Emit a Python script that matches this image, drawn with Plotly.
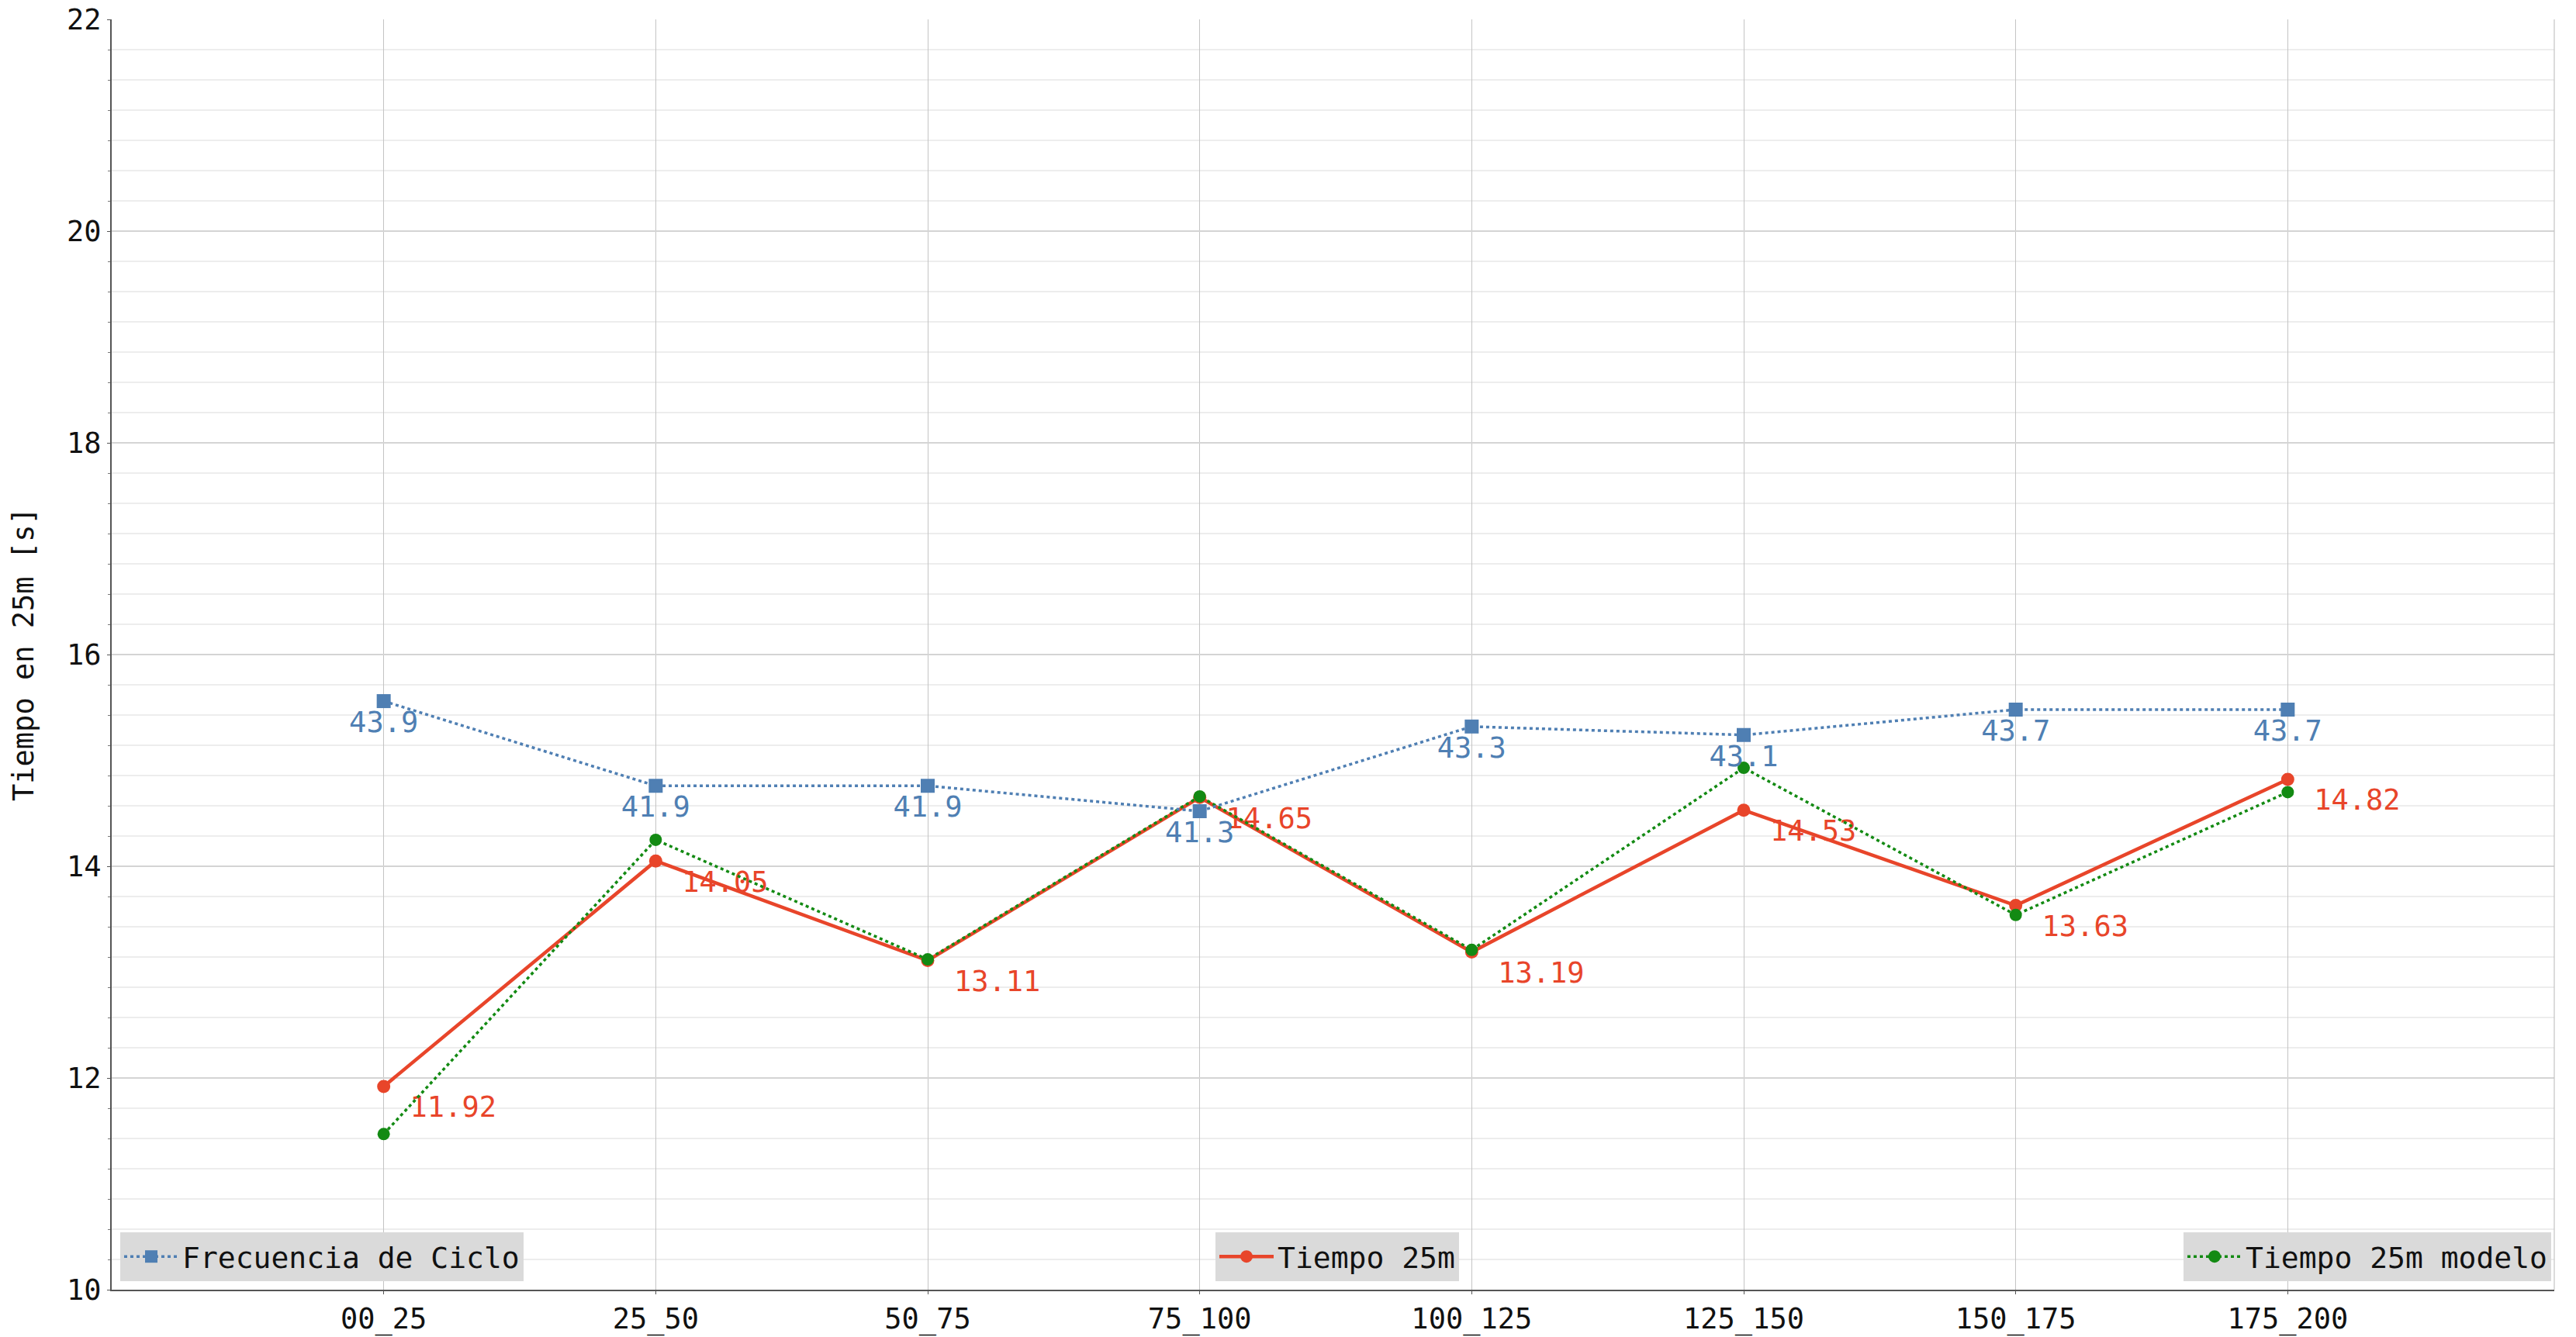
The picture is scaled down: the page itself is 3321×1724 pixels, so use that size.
import plotly.graph_objects as go

categories = ["00_25", "25_50", "50_75", "75_100", "100_125", "125_150", "150_175", "175_200"]
frecuencia_ciclo = [43.9, 41.9, 41.9, 41.3, 43.3, 43.1, 43.7, 43.7]
tiempo_25m = [11.92, 14.05, 13.11, 14.65, 13.19, 14.53, 13.63, 14.82]
tiempo_25m_modelo = [11.47, 14.25, 13.12, 14.66, 13.21, 14.93, 13.54, 14.70]
y_ticks = [10, 12, 14, 16, 18, 20, 22]

BLUE = "#4f7fb3"
RED = "#e8452a"
GREEN = "#138a13"
FONT = "DejaVu Sans Mono"
FS = 37

W, H = 3321, 1724
PL, PT, PR, PB = 144, 25, 3293, 1663  # plot area in page px
ML, MT, MR, MB = PL, PT, W - PR, H - PB
PW, PH = PR - PL, PB - PT

fig = go.Figure()

fig.add_trace(go.Scatter(
    x=categories, y=frecuencia_ciclo, name="Frecuencia de Ciclo",
    mode="lines+markers+text", yaxis="y2",
    line=dict(color=BLUE, width=3.5, dash="4px,4px"),
    marker=dict(symbol="square", size=18, color=BLUE),
    texttemplate="%{y:.1f}", textposition="bottom center",
    textfont=dict(family=FONT, size=FS, color=BLUE),
    legend="legend",
))
fig.add_trace(go.Scatter(
    x=categories, y=tiempo_25m, name="Tiempo 25m",
    mode="lines+markers+text",
    line=dict(color=RED, width=4.5),
    marker=dict(symbol="circle", size=17, color=RED),
    texttemplate="\u00a0%{y:.2f}", textposition="bottom right",
    textfont=dict(family=FONT, size=FS, color=RED),
    legend="legend2",
))
fig.add_trace(go.Scatter(
    x=categories, y=tiempo_25m_modelo, name="Tiempo 25m modelo",
    mode="lines+markers",
    line=dict(color=GREEN, width=3.5, dash="4px,4px"),
    marker=dict(symbol="circle", size=16, color=GREEN),
    legend="legend3",
))

legend_common = dict(
    bgcolor="#dadada", borderwidth=0,
    font=dict(family=FONT, size=38, color="#111111"),
    itemwidth=70, yanchor="bottom", y=(1663 - 1652) / PH,
)

fig.update_layout(
    width=W, height=H,
    margin=dict(l=ML, r=MR, t=MT, b=MB, autoexpand=False),
    paper_bgcolor="white", plot_bgcolor="white",
    font=dict(family=FONT, size=FS, color="#111111"),
    xaxis=dict(
        type="category", range=[-1.0, 7.98], automargin=False,
        showgrid=True, gridcolor="#c4c4c4", gridwidth=1.2,
        showline=True, linecolor="#555555", linewidth=2,
        ticks="outside", ticklen=4, tickcolor="#555555",
        tickfont=dict(family=FONT, size=FS, color="#111111"),
        ticklabeloverflow="allow",
        zeroline=False,
    ),
    yaxis=dict(
        range=[10, 22], tickvals=y_ticks, automargin=False,
        showgrid=True, gridcolor="#d4d4d4", gridwidth=1.5,
        showline=True, linecolor="#555555", linewidth=2,
        ticks="outside", ticklen=4, tickcolor="#555555",
        tickfont=dict(family=FONT, size=FS, color="#111111"),
        ticklabeloverflow="allow",
        zeroline=False,
        minor=dict(dtick=2 / 7, tick0=10, showgrid=True, gridcolor="#ededed",
                   ticks="outside", ticklen=3, tickcolor="#777777"),
    ),
    yaxis2=dict(range=[30, 60], overlaying="y", visible=False),
    legend=dict(**legend_common, xanchor="left", x=(155 - PL) / PW),
    legend2=dict(**legend_common, xanchor="left", x=(1567 - PL) / PW),
    legend3=dict(**legend_common, xanchor="right", x=(3289 - PL) / PW),
    showlegend=True,
    shapes=[dict(type="line", xref="paper", yref="paper", x0=1, x1=1, y0=0, y1=1,
                 line=dict(color="#c4c4c4", width=1.2))],
    annotations=[dict(
        text="Tiempo en 25m [s]", textangle=-90, showarrow=False,
        xref="paper", yref="paper", x=0, y=0.5, xanchor="center", yanchor="middle",
        xshift=30 - ML, font=dict(family=FONT, size=FS, color="#111111"),
    )],
)

fig.write_html(
    "out.html",
    config={"displayModeBar": False},
    post_script="document.body.style.margin='0';document.body.style.overflow='hidden';",
)
